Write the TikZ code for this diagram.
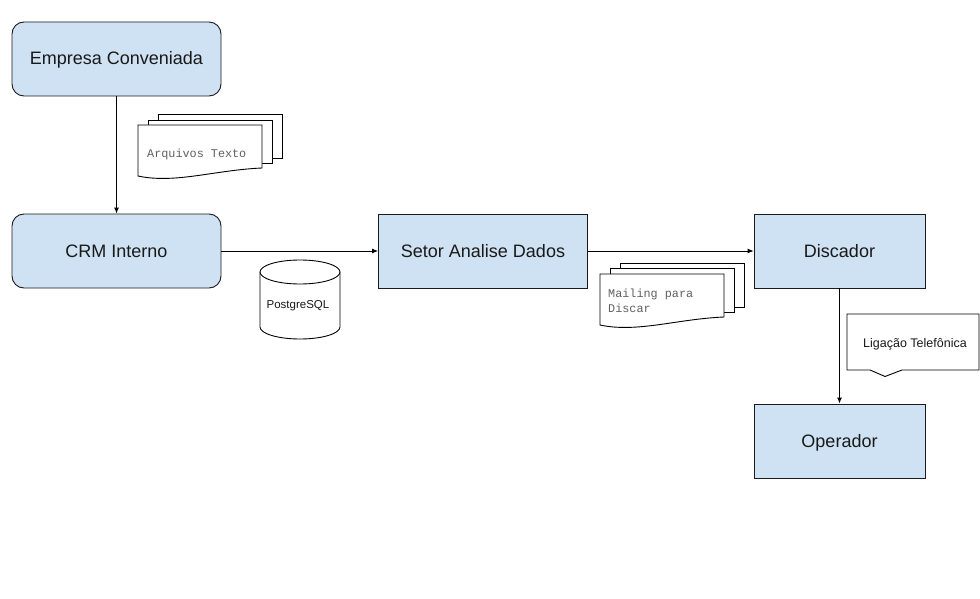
\documentclass[tikz,border=0pt]{standalone}
\usepackage{fontspec}
\setmainfont{Liberation Sans}
\newfontfamily\monof{Liberation Mono}
\usetikzlibrary{arrows.meta}
\definecolor{boxblue}{HTML}{CFE2F3}
\definecolor{doctxt}{HTML}{606060}
\definecolor{edge}{HTML}{1A1A1A}
\tikzset{
  box/.style={draw=edge, fill=boxblue, line width=0.9pt, minimum width=209pt,
    minimum height=74pt, inner sep=0pt, text=black!90, text height=16pt, text depth=4pt,
    font=\fontsize{18}{22}\selectfont},
  rbox/.style={box, rounded corners=12pt},
  conn/.style={draw=black, line width=0.9pt, -{Latex[length=6pt,width=5pt]}},
  outl/.style={draw=black, line width=0.9pt, fill=white},
  doctext/.style={text=doctxt, inner sep=0pt, font=\monof\fontsize{11.8}{15}\selectfont},
  smalltext/.style={text=black!90, inner sep=0pt, font=\fontsize{11.5}{14}\selectfont},
}
\begin{document}
\begin{tikzpicture}[x=1pt,y=-1pt]
\useasboundingbox (0,0) rectangle (980,599);
\fill[white] (0,0) rectangle (980,599);

% main boxes
\node[rbox] (emp) at (116.5,59) {Empresa Conveniada};
\node[rbox] (crm) at (116.5,251) {CRM Interno};
\node[box] (setor) at (483,251) {Setor Analise Dados};
\node[box, minimum width=171pt] (disc) at (839.5,251) {Discador};
\node[box, minimum width=171pt] (op) at (839.5,441) {Operador};

% connectors
\draw[conn] (emp.south) -- (crm.north);
\draw[conn] (crm.east) -- (setor.west);
\draw[conn] (setor.east) -- (disc.west);
\draw[conn] (disc.south) -- (op.north);

% Arquivos Texto (multi-document)
\path[outl] (158,114) rectangle (282,158);
\path[outl] (148,120) rectangle (272,163);
\path[outl] (138,125) -- (262,125) -- (262,168)
  .. controls (215,170) and (175,184) .. (138,176) -- cycle;
\node[doctext, anchor=west] (arq) at (147,154) {Arquivos Texto};

% Mailing para Discar (multi-document)
\path[outl] (620,263) rectangle (744,307);
\path[outl] (610,268) rectangle (734,312);
\path[outl] (600,274) -- (724,274) -- (724,317)
  .. controls (677,319) and (637,333) .. (600,325) -- cycle;
\node[doctext, anchor=north west, align=left] (mail) at (608,288.5) {Mailing para\\Discar};

% PostgreSQL cylinder
\path[outl] (260,272) -- (260,327) arc[start angle=180, end angle=360, x radius=40pt, y radius=12pt]
  -- (340,272) -- cycle;
\path[outl] (300,272) ellipse [x radius=40pt, y radius=12pt];
\node[smalltext] (pg) at (298,306) {PostgreSQL};

% callout
\path[outl] (847,314) -- (979,314) -- (979,370) -- (902,370) -- (885,376.5)
  -- (870,370) -- (847,370) -- cycle;
\node[smalltext, font=\fontsize{12.5}{15}\selectfont] (lig) at (915,344.5) {Ligação Telefônica};
\end{tikzpicture}
\end{document}
